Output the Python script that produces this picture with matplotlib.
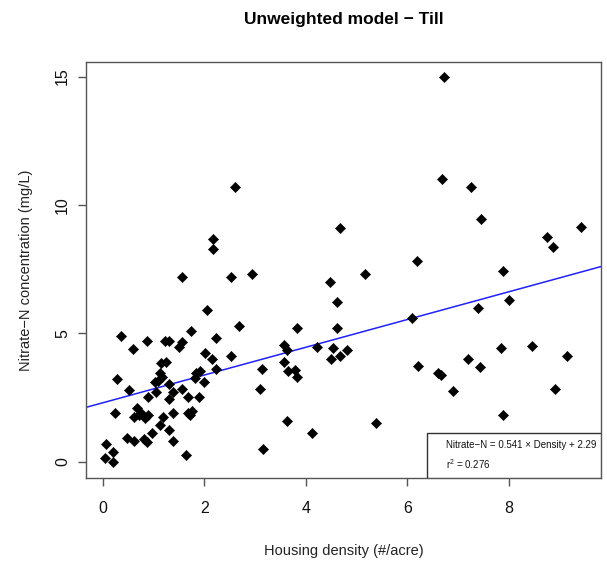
import numpy as np
import matplotlib
matplotlib.use('Agg')
import matplotlib.pyplot as plt
from matplotlib.patches import Rectangle

plt.rcParams['font.family'] = ['Liberation Sans', 'DejaVu Sans']

# housing density (#/acre) and nitrate-N (mg/L)
density = [0.07, 0.2, 0.04, 0.2, 0.25, 0.28, 0.36, 0.52, 0.6,
           0.47, 0.62, 0.82, 0.87, 0.67, 0.71, 0.62, 0.75, 0.89, 0.84,
           0.89, 1.05, 0.87, 1.02, 1.08, 1.13, 1.17, 1.15, 1.24, 1.31, 1.39, 1.31,
           1.23, 1.31, 1.5, 1.57, 1.74, 1.57, 1.67, 1.89, 1.84, 1.92, 2.0, 1.82,
           1.67, 1.76, 1.71, 1.39, 1.19, 1.13, 1.31, 0.97, 1.39, 1.63,
           1.57, 2.05, 2.22, 2.02, 2.15, 2.52, 2.69, 2.23,
           2.17, 2.17, 2.52, 2.6, 2.94,
           3.13, 3.1, 3.16,
           3.56, 3.62, 3.57, 3.65, 3.79, 3.82, 3.82, 3.63,
           4.13, 4.22, 4.54, 4.81, 4.49, 4.67, 4.61, 4.61, 4.47, 4.67,
           5.16, 5.39,
           6.08, 6.19, 6.2, 6.61, 6.67, 6.72, 6.69, 6.9,
           7.26, 7.44, 7.2, 7.42, 7.38, 7.89, 8.0, 7.85, 7.89,
           8.46, 8.75, 8.87, 8.91, 9.15, 9.42]
nitrate = [0.68, 0.36, 0.14, 0.0, 1.9, 3.2, 4.89, 2.79, 4.38,
           0.9, 0.81, 0.86, 0.77, 2.07, 1.81, 1.72, 1.88, 1.81, 1.68,
           2.5, 2.72, 4.7, 3.11, 3.15, 3.46, 3.31, 3.83, 3.89, 3.02, 2.72, 2.42,
           4.7, 4.7, 4.48, 4.67, 5.1, 2.81, 2.53, 2.5, 3.46, 3.54, 3.11, 3.24,
           1.88, 1.98, 1.81, 1.9, 1.75, 1.42, 1.23, 1.1, 0.81, 0.25,
           7.2, 5.9, 4.8, 4.22, 3.98, 4.13, 5.29, 3.6,
           8.67, 8.28, 7.2, 10.69, 7.31,
           3.59, 2.81, 0.47,
           4.54, 4.35, 3.89, 3.54, 3.57, 3.28, 5.19, 1.59,
           1.12, 4.45, 4.41, 4.33, 4.0, 4.1, 5.2, 6.23, 7.0, 9.09,
           7.31, 1.52,
           5.6, 7.8, 3.74, 3.46, 3.39, 15.0, 11.0, 2.76,
           10.7, 9.47, 4.0, 3.68, 6.0, 7.43, 6.3, 4.41, 1.82,
           4.5, 8.75, 8.37, 2.81, 4.13, 9.15]

slope = 0.541
intercept = 2.29
r2 = 0.276

xticks = [0, 2, 4, 6, 8]
yticks = [0, 5, 10, 15]

fig = plt.figure(figsize=(6.07, 5.61), dpi=100)
ax = fig.add_axes([0.1417, 0.148, 0.8483, 0.7415])

ax.scatter(density, nitrate, marker='D', s=27, color='black', linewidths=0.4,
           edgecolors='black', zorder=3)
ax.axline((0, intercept), slope=slope, color='#2020ff', linewidth=1.1, zorder=2)

ax.set_xlim(-0.33, 9.81)
ax.set_ylim(-0.64, 15.57)
ax.set_xticks(xticks)
ax.set_yticks(yticks)
ax.set_xticklabels([str(t) for t in xticks])
ax.set_yticklabels([str(t) for t in yticks], rotation=90, va='center')

for s in ax.spines.values():
    s.set_color('#555555')
    s.set_linewidth(1.0)
ax.tick_params(direction='out', length=5.5, width=1.0, color='#555555',
               labelsize=11.5, labelcolor='#111111')
ax.tick_params(axis='x', pad=11)
ax.tick_params(axis='y', pad=6)

ax.set_title('Unweighted model \u2212 Till', fontsize=12.5, fontweight='bold', pad=27)
ax.set_xlabel('Housing density (#/acre)', fontsize=10.5, labelpad=20, color='#222222')
ax.set_ylabel('Nitrate\u2212N concentration (mg/L)', fontsize=10.5, labelpad=16, color='#222222')

# fit-statistics box in the lower right corner
box_x0 = 6.39
box_top = 1.11
ax.add_patch(Rectangle((box_x0, -0.64), 9.81 - box_x0, box_top + 0.64,
                       facecolor='white', edgecolor='#333333', linewidth=1.0, zorder=4))
ax.text(6.75, 0.64, 'Nitrate\u2212N = %.3f \u00d7 Density + %.2f' % (slope, intercept),
        fontsize=7, va='center', ha='left', zorder=5, color='#111111',
        family=['Liberation Sans Narrow', 'Liberation Sans', 'DejaVu Sans'])
ax.text(6.75, -0.1, '$\\mathregular{r^2}$ = %.3f' % r2,
        fontsize=7, va='center', ha='left', zorder=5, color='#111111',
        family=['Liberation Sans Narrow', 'Liberation Sans', 'DejaVu Sans'])

fig.savefig('out.png', dpi=100)
